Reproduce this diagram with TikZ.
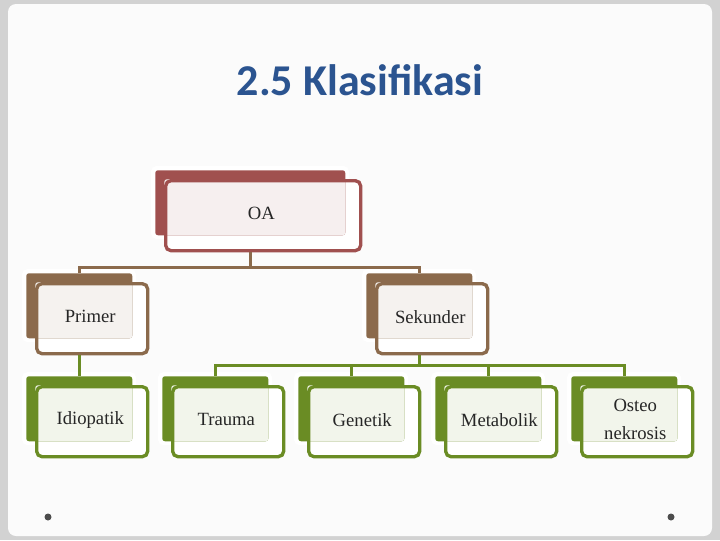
\documentclass[tikz,border=0pt]{standalone}
\usepackage{fontspec}
\setmainfont{Liberation Serif}
\newfontfamily\titlefont{Carlito}
\usetikzlibrary{positioning,calc}
\definecolor{oared}{HTML}{A0504F}
\definecolor{oabrown}{HTML}{8B6A4C}
\definecolor{oagreen}{HTML}{6A8C24}
\definecolor{titleblue}{HTML}{2B5490}
\newlength{\px}\setlength{\px}{0.75pt}
\tikzset{
  back/.style={fill=#1, inner sep=0pt, rounded corners=2pt},
  shade/.style={fill=#1!9, inner sep=0pt, rounded corners=2pt},
  front/.style={draw=#1, line width=2.5pt, inner sep=0pt, rounded corners=4pt,
    font=\fontsize{14}{21}\selectfont, align=center},
  link/.style={draw=#1, line width=2pt}
}
% box: name, back x0, y0, width, colour, text
\newcommand{\orgbox}[6]{%
  \fill[white, rounded corners=4pt] (#2\px-4\px,-#3\px+4\px) rectangle ++(#4\px+8\px,-73\px);
  \fill[white, rounded corners=4pt] (#2\px+9\px,-#3\px-9\px) rectangle ++(#4\px+5\px,-70\px);
  \node[back=#5, minimum width=#4\px, minimum height=65\px, anchor=north west] (#1-b) at (#2\px,-#3\px) {};
  \node[shade=#5, minimum width=#4\px-9\px, minimum height=56\px, anchor=north west] (#1-s) at (#2\px+9\px,-#3\px-9\px) {};
  \node[front=#5, minimum width=#4\px+5\px, minimum height=70\px, anchor=north west] (#1) at (#2\px+9\px,-#3\px-9\px) {};
  \node[font=\fontsize{14}{21}\selectfont, align=center, text=black!85] (#1-t) at ($(#1-b.center)+(11\px,-11\px)$) {#6};
}
\begin{document}
\begin{tikzpicture}
\useasboundingbox (0,0) rectangle (720\px,-540\px);
\fill[gray!35] (0,0) rectangle (720\px,-540\px);
\fill[gray!3, rounded corners=6pt] (8\px,-4\px) rectangle (712\px,-536\px);
\node[font=\titlefont\bfseries\fontsize{33}{36}\selectfont, text=titleblue] (title) at (360\px,-80\px) {2.5 Klasifikasi};
%
\orgbox{oa}{155}{170}{190}{oared}{OA}
\orgbox{primer}{26}{273}{106}{oabrown}{Primer}
\orgbox{sekunder}{366}{273}{106}{oabrown}{Sekunder}
\orgbox{idio}{26}{376}{106}{oagreen}{Idiopatik}
\orgbox{trauma}{162}{376}{106}{oagreen}{Trauma}
\orgbox{genetik}{298}{376}{106}{oagreen}{Genetik}
\orgbox{metab}{435}{376}{106}{oagreen}{Metabolik}
\orgbox{osteo}{571}{376}{106}{oagreen}{Osteo\\nekrosis}
%
\path (oa.south -| oa-b.south) ++(0,-15\px) coordinate (oajoin);
\draw[link=oabrown] (oa.south -| oa-b.south) -- (oajoin);
\draw[link=oabrown] (primer-b.north) |- (oajoin) -| (sekunder-b.north);
\draw[link=oagreen] (primer.south -| primer-b) -- (idio-b.north);
\path (sekunder.south -| sekunder-b) ++(0,-10\px) coordinate (skjoin);
\draw[link=oagreen] (sekunder.south -| sekunder-b) -- (skjoin);
\draw[link=oagreen] (trauma-b.north) |- (skjoin) -| (osteo-b.north);
\draw[link=oagreen] (genetik-b.north) -- (genetik-b.north |- skjoin);
\draw[link=oagreen] (metab-b.north) -- (metab-b.north |- skjoin);
%
\fill[gray!60!black] (48\px,-517\px) circle (3.5\px);
\fill[gray!60!black] (671\px,-517\px) circle (3.5\px);
\end{tikzpicture}
\end{document}
